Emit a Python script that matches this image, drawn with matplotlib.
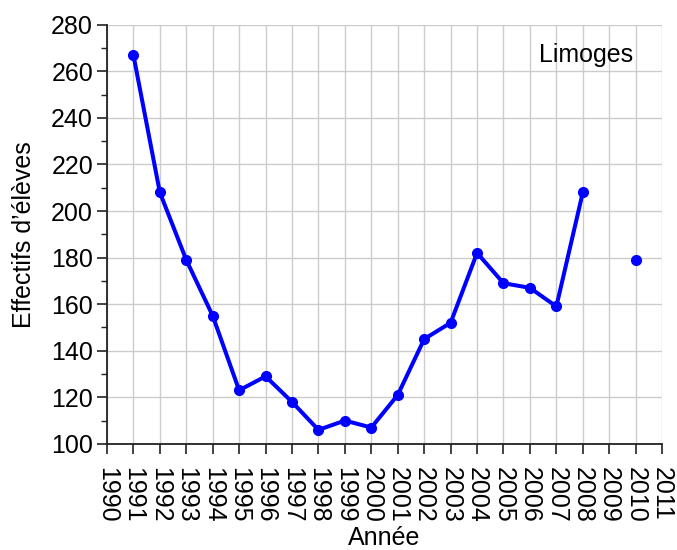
import numpy as np
import matplotlib
matplotlib.use("Agg")
import matplotlib.pyplot as plt
from matplotlib.ticker import MultipleLocator

years = [1991, 1992, 1993, 1994, 1995, 1996, 1997, 1998, 1999, 2000,
         2001, 2002, 2003, 2004, 2005, 2006, 2007, 2008, 2009, 2010]
effectifs = [267, 208, 179, 155, 123, 129, 118, 106, 110, 107,
             121, 145, 152, 182, 169, 167, 159, 208, np.nan, 179]
xticks = list(range(1990, 2012))
yticks = list(range(100, 281, 20))

plt.rcParams['font.family'] = ['Liberation Sans', 'DejaVu Sans']
FS = 18

fig = plt.figure(figsize=(6.77, 5.5), dpi=100)
ax = fig.add_axes([0.158, 0.193, 0.820, 0.762])

ax.plot(years, effectifs, color='#0000ff', lw=2.9, marker='o', ms=7, zorder=3)

ax.set_xlim(1990, 2011)
ax.set_ylim(100, 280)
ax.set_xticks(xticks)
ax.set_xticklabels([str(t) for t in xticks], rotation=-90, fontsize=FS)
ax.set_yticks(yticks)
ax.set_yticklabels([str(t) for t in yticks], fontsize=FS)
ax.yaxis.set_minor_locator(MultipleLocator(10))
ax.tick_params(axis='both', which='major', length=7, width=1.2, color='#222222', pad=3)
ax.tick_params(axis='x', which='major', pad=10)
ax.tick_params(axis='y', which='minor', length=4, width=1.0, color='#222222')
ax.grid(True, which='major', color='#cccccc', lw=1.0)
ax.set_axisbelow(True)
for s in ['top', 'right']:
    ax.spines[s].set_visible(False)
for s in ['left', 'bottom']:
    ax.spines[s].set_linewidth(1.3)
    ax.spines[s].set_color('#222222')

ax.set_xlabel('Année', fontsize=FS, labelpad=2)
ax.set_ylabel('Effectifs d\u2019élèves', fontsize=FS, labelpad=11)
ax.text(0.863, 0.928, 'Limoges', transform=ax.transAxes, ha='center', va='center', fontsize=FS)

fig.savefig('out.png', dpi=100)
